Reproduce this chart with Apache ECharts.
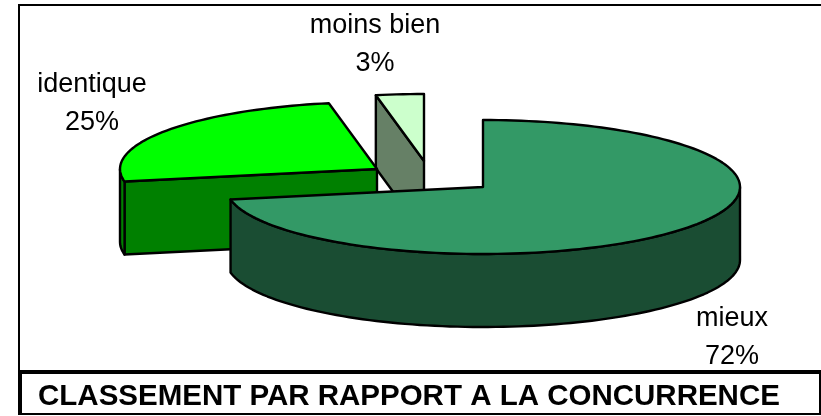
<!DOCTYPE html>
<html>
<head>
<meta charset="utf-8">
<style>
html, body { margin: 0; padding: 0; background: #fff; }
#chart { width: 821px; height: 416px; }
</style>
<script src="https://cdn.jsdelivr.net/npm/echarts@6/dist/echarts.min.js"></script>
</head>
<body>
<div id="chart"></div>
<script>
// values
const categories = ["mieux", "identique", "moins bien"];
const values = [72, 25, 3];
const chartTitle = "CLASSEMENT PAR RAPPORT A LA CONCURRENCE";

// look of the 3d pie
const topColors = ["#339966", "#00FF00", "#CCFFCC"];
const sideColors = ["#1A4D33", "#008000", "#668066"];
const center = [483, 187];
const radiusX = 257;
const radiusY = 67;
const depth = 73;
// slice pulled away from the pie, in px
const explode = [[0, 0], [-106, -18], [-59, -26]];
const labelPos = [[732, 338], [92, 104], [375, 45]];
// back slices first
const drawOrder = [2, 1, 0];

const total = values.reduce((a, b) => a + b, 0);
const starts = [];
values.reduce((sum, v, i) => {
  starts[i] = sum;
  return sum + v;
}, 0);

function toAngle(v) {
  return echarts.number.linearMap(v, [0, total], [0, Math.PI * 2]);
}

// angle is clockwise from north
function rimPoint(cx, cy, a) {
  return [cx + radiusX * Math.sin(a), cy - radiusY * Math.cos(a)];
}

function arcPoints(cx, cy, a0, a1) {
  const steps = Math.max(2, Math.ceil(Math.abs(a1 - a0) / 0.03));
  const pts = [];
  for (let i = 0; i <= steps; i++) {
    pts.push(rimPoint(cx, cy, a0 + ((a1 - a0) * i) / steps));
  }
  return pts;
}

function face(points, fill) {
  return {
    type: "polygon",
    shape: { points: points },
    style: { fill: fill, stroke: "#000", lineWidth: 2.4, lineJoin: "round" }
  };
}

function renderSlice(params, api) {
  const idx = api.value(0);
  const a0 = toAngle(starts[idx]);
  const a1 = toAngle(starts[idx] + values[idx]);
  const cx = center[0] + explode[idx][0];
  const cy = center[1] + explode[idx][1];
  const low = (p) => [p[0], p[1] + depth];
  const children = [];

  // cut faces, only the ones turned to us
  const cutFace = (a) => {
    const p = rimPoint(cx, cy, a);
    return face([[cx, cy], p, low(p), [cx, cy + depth]], sideColors[idx]);
  };
  if (Math.sin(a0) < -0.001) children.push(cutFace(a0));
  if (Math.sin(a1) > 0.001) children.push(cutFace(a1));

  // outer skin, lower half of the ellipse only
  const from = Math.max(a0, Math.PI / 2);
  const to = Math.min(a1, Math.PI * 1.5);
  if (to > from) {
    const rim = arcPoints(cx, cy, from, to);
    children.push(face(rim.concat(rim.map(low).reverse()), sideColors[idx]));
  }

  // top of the slice
  children.push(face([[cx, cy]].concat(arcPoints(cx, cy, a0, a1)), topColors[idx]));

  children.push({
    type: "text",
    style: {
      text: categories[idx] + "\n" + values[idx] + "%",
      x: labelPos[idx][0],
      y: labelPos[idx][1],
      align: "center",
      verticalAlign: "middle",
      font: '27px "Liberation Sans", Arial, sans-serif',
      lineHeight: 38,
      fill: "#000"
    }
  });
  return { type: "group", children: children };
}

const myChart = echarts.init(document.getElementById("chart"), null, { renderer: "canvas" });
myChart.setOption({
  animation: false,
  backgroundColor: "#fff",
  title: {
    text: chartTitle,
    left: 38,
    top: 382,
    textStyle: {
      fontFamily: '"Liberation Sans", Arial, sans-serif',
      fontWeight: "bold",
      fontSize: 29.5,
      color: "#000"
    },
    padding: 0
  },
  graphic: [
    // chart frame, its right side is cut by the page
    { type: "rect", z: -1, shape: { x: 19, y: 5, width: 810, height: 367 }, style: { fill: "#fff", stroke: "#000", lineWidth: 2 } },
    // title box
    { type: "rect", z: 0, shape: { x: 18, y: 370, width: 803, height: 4 }, style: { fill: "#000" } },
    { type: "rect", z: 0, shape: { x: 18, y: 370, width: 4, height: 45 }, style: { fill: "#000" } },
    { type: "rect", z: 0, shape: { x: 819, y: 370, width: 2, height: 45 }, style: { fill: "#000" } },
    { type: "rect", z: 0, shape: { x: 18, y: 413, width: 803, height: 2 }, style: { fill: "#000" } }
  ],
  series: [
    {
      type: "custom",
      coordinateSystem: "none",
      renderItem: renderSlice,
      data: drawOrder.map((i) => [i]),
      silent: true
    }
  ]
});
</script>
</body>
</html>
